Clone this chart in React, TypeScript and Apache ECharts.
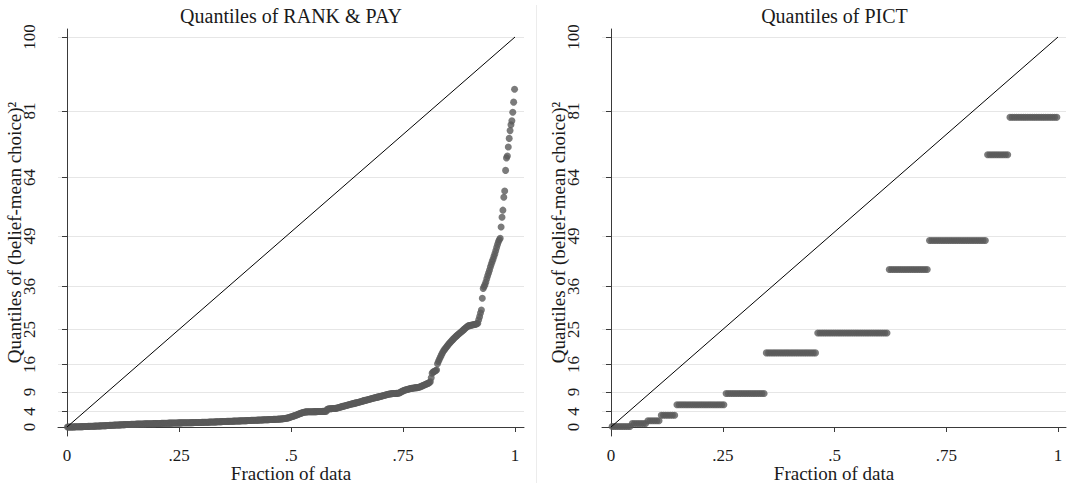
import React, { useEffect, useRef } from "react";
import * as echarts from "echarts";

// ---------- data ----------
const xTicks = [0, 0.25, 0.5, 0.75, 1];
const xTickLabels = ["0", ".25", ".5", ".75", "1"];
const yTicks = [0, 4, 9, 16, 25, 36, 49, 64, 81, 100];

const panelTitles = ["Quantiles of RANK & PAY", "Quantiles of PICT"];
const xTitle = "Fraction of data";
const yTitle = "Quantiles of (belief-mean choice)\u00B2";

// 45-degree reference line (fraction, value)
const refLineX = [0, 1];
const refLineY = [0, 100];

// sorted quantile values of (belief-mean choice)^2, RANK & PAY
const rankPay = [
  0, 0, 0, 0.01, 0.01, 0.02, 0.02, 0.03, 0.04, 0.04,
  0.05, 0.06, 0.06, 0.07, 0.08, 0.09, 0.09, 0.1, 0.11, 0.12,
  0.13, 0.14, 0.15, 0.16, 0.16, 0.17, 0.18, 0.19, 0.2, 0.21,
  0.22, 0.23, 0.24, 0.25, 0.26, 0.27, 0.28, 0.29, 0.3, 0.31,
  0.32, 0.34, 0.35, 0.36, 0.37, 0.38, 0.4, 0.41, 0.42, 0.44,
  0.45, 0.46, 0.48, 0.49, 0.5, 0.51, 0.52, 0.53, 0.54, 0.55,
  0.56, 0.57, 0.58, 0.6, 0.61, 0.62, 0.63, 0.64, 0.64, 0.65,
  0.66, 0.67, 0.68, 0.69, 0.7, 0.71, 0.72, 0.73, 0.74, 0.75,
  0.76, 0.76, 0.77, 0.78, 0.79, 0.79, 0.8, 0.81, 0.81, 0.82,
  0.83, 0.83, 0.84, 0.84, 0.85, 0.85, 0.86, 0.86, 0.87, 0.88,
  0.89, 0.9, 0.9, 0.91, 0.92, 0.93, 0.94, 0.95, 0.96, 0.96,
  0.97, 0.98, 0.98, 0.99, 1, 1, 1, 1.01, 1.02, 1.02,
  1.03, 1.03, 1.04, 1.04, 1.05, 1.05, 1.06, 1.06, 1.07, 1.07,
  1.08, 1.08, 1.09, 1.09, 1.1, 1.1, 1.11, 1.11, 1.12, 1.12,
  1.13, 1.13, 1.14, 1.14, 1.15, 1.15, 1.16, 1.16, 1.17, 1.17,
  1.18, 1.19, 1.2, 1.2, 1.21, 1.22, 1.23, 1.24, 1.25, 1.26,
  1.27, 1.28, 1.29, 1.3, 1.3, 1.31, 1.32, 1.33, 1.34, 1.35,
  1.36, 1.37, 1.38, 1.39, 1.4, 1.41, 1.42, 1.43, 1.44, 1.44,
  1.45, 1.46, 1.47, 1.48, 1.49, 1.5, 1.51, 1.52, 1.53, 1.54,
  1.55, 1.56, 1.57, 1.57, 1.58, 1.59, 1.6, 1.61, 1.62, 1.63,
  1.64, 1.65, 1.66, 1.67, 1.68, 1.69, 1.7, 1.71, 1.72, 1.73,
  1.74, 1.75, 1.76, 1.77, 1.78, 1.79, 1.8, 1.81, 1.82, 1.84,
  1.85, 1.86, 1.87, 1.88, 1.89, 1.9, 1.91, 1.92, 1.93, 1.94,
  1.95, 1.96, 1.97, 1.98, 2, 2.01, 2.02, 2.04, 2.06, 2.08,
  2.1, 2.13, 2.16, 2.2, 2.24, 2.28, 2.33, 2.4, 2.47, 2.55,
  2.62, 2.7, 2.78, 2.86, 2.94, 3.02, 3.1, 3.2, 3.3, 3.4,
  3.48, 3.56, 3.64, 3.72, 3.78,
  3.85, 3.87, 3.88, 3.9, 3.9, 3.9, 3.91, 3.92, 3.92, 3.93,
  3.94, 3.94, 3.95, 3.95, 3.96, 3.96, 3.97, 3.98, 3.98, 3.99,
  4, 4, 4.01, 4.02, 4.05,
  4.55, 4.62, 4.66, 4.7, 4.7, 4.72, 4.74, 4.75, 4.76, 4.78, 4.8, 4.85,
  4.92, 5.0, 5.08, 5.15, 5.22, 5.28, 5.34, 5.4, 5.46, 5.52,
  5.58, 5.64, 5.7, 5.76, 5.82, 5.88, 5.94, 6.0, 6.06, 6.12,
  6.18, 6.24, 6.3, 6.36, 6.42, 6.48, 6.55, 6.62,
  6.7, 6.76, 6.82, 6.88, 6.94, 7.0, 7.06, 7.12, 7.18, 7.24,
  7.3, 7.36, 7.42, 7.48, 7.54, 7.6, 7.66, 7.72, 7.78, 7.84,
  7.9, 7.96, 8.02, 8.08, 8.14, 8.2, 8.26, 8.32, 8.38, 8.44,
  8.48, 8.52, 8.55, 8.57, 8.58, 8.6, 8.6, 8.62, 8.63, 8.65, 8.7, 8.8,
  8.95, 9.1, 9.2, 9.3, 9.4, 9.5, 9.55, 9.6,
  9.7, 9.75, 9.8, 9.85, 9.9, 9.95, 10, 10, 10.05, 10.1, 10.1, 10.15, 10.2, 10.25, 10.3,
  10.45, 10.55, 10.65, 10.75, 10.85, 10.95, 11.05, 11.15, 11.25, 11.4, 11.6,
  12.6, 13.8, 14.1, 14.2, 14.3, 14.5, 14.6,
  16.2, 16.8, 17.3, 17.8, 18.3, 18.8, 19.2,
  19.6, 19.9, 20.2, 20.5, 20.8, 21.1, 21.4, 21.6, 21.9, 22.1,
  22.4, 22.6, 22.9, 23.1, 23.3, 23.5, 23.7, 23.9, 24.1, 24.3,
  24.5, 24.7, 24.9, 25.1, 25.3, 25.5, 25.7, 25.9,
  26, 26, 26.1, 26.1, 26.2, 26.2, 26.3, 26.3, 26.4, 26.5, 26.6,
  27.5, 28.3, 29.2, 30, 33, 35.5,
  36, 36.5, 37.2, 38, 38.8, 39.5, 40.2, 41, 41.7, 42.4,
  43, 43.7, 44.4, 45.2, 46, 46.8, 47.5, 48,
  48.4, 51.3, 53.8, 55.6, 58.9, 60.5, 65.8, 69, 69.5, 71.8,
  74, 76, 77.5, 78.5, 80.7, 83.3, 86.6,
];

// PICT: distinct values of (belief-mean choice)^2 and their frequencies
const pictValues = [0.15, 0.9, 1.6, 3.0, 5.7, 8.6, 19.0, 24.1, 40.4, 47.8, 69.8, 79.4];
const pictCounts = [9, 7, 6, 7, 22, 18, 23, 32, 18, 26, 10, 22];

// ---------- helpers ----------
const FONT = "'Liberation Serif', 'DejaVu Serif', serif";
const AXIS_COLOR = "#3a3a3a";
const GRID_COLOR = "#e6e6e6";
const DOT_COLOR = "#5a5a5a";

function quantilePoints(sorted: number[]): number[][] {
  const n = sorted.length;
  return sorted.map((v, i) => [(i + 0.5) / n, v]);
}

function expand(values: number[], counts: number[]): number[] {
  const out: number[] = [];
  values.forEach((v, k) => {
    for (let j = 0; j < counts[k]; j++) out.push(v);
  });
  return out;
}

function tickLabel(v: number): string {
  let best = 0;
  for (let i = 1; i < xTicks.length; i++) {
    if (Math.abs(xTicks[i] - v) < Math.abs(xTicks[best] - v)) best = i;
  }
  return xTickLabels[best];
}

export default function App() {
  const ref = useRef<HTMLDivElement>(null);

  useEffect(() => {
    if (!ref.current) return;
    const chart = echarts.init(ref.current, null, { renderer: "svg" });

    // pixel layout
    const grids = [
      { left: 58, top: 29, width: 466, height: 407, zeroX: 67, unitX: 448 },
      { left: 602, top: 29, width: 464, height: 407, zeroX: 611, unitX: 447 },
    ];
    const zeroY = 427;
    const unitY = 3.9; // px per unit of y

    const xAxes = grids.map((g, i) => ({
      type: "value",
      gridIndex: i,
      min: (g.left - g.zeroX) / g.unitX,
      max: (g.left + g.width - g.zeroX) / g.unitX,
      axisLine: { show: true, lineStyle: { color: AXIS_COLOR, width: 1 } },
      axisTick: {
        show: true,
        customValues: xTicks,
        length: 5,
        lineStyle: { color: AXIS_COLOR, width: 1 },
      },
      axisLabel: {
        customValues: xTicks,
        formatter: (v: number) => tickLabel(v),
        fontFamily: FONT,
        fontSize: 17,
        color: "#1a1a1a",
        margin: 11,
      },
      splitLine: { show: false },
      name: xTitle,
      nameLocation: "middle",
      nameGap: 28,
      nameMoveOverlap: false,
      nameTextStyle: { fontFamily: FONT, fontSize: 19, color: "#1a1a1a" },
    }));

    const yAxes = grids.map((g, i) => ({
      type: "value",
      gridIndex: i,
      min: -(g.top + g.height - zeroY) / unitY,
      max: 100 + (37 - g.top) / unitY,
      axisLine: { show: true, lineStyle: { color: AXIS_COLOR, width: 1 } },
      axisTick: {
        show: true,
        customValues: yTicks,
        length: 5,
        lineStyle: { color: AXIS_COLOR, width: 1 },
      },
      axisLabel: {
        customValues: yTicks,
        rotate: 90,
        fontFamily: FONT,
        fontSize: 17,
        color: "#1a1a1a",
        margin: 20,
      },
      splitLine: {
        show: true,
        lineStyle: { color: GRID_COLOR, width: 1 },
      },
      name: yTitle,
      nameLocation: "middle",
      nameGap: 34,
      nameMoveOverlap: false,
      nameTextStyle: { fontFamily: FONT, fontSize: 19, color: "#1a1a1a" },
    }));

    const refData = refLineX.map((x, k) => [x, refLineY[k]]);
    const datasets = [quantilePoints(rankPay), quantilePoints(expand(pictValues, pictCounts))];

    const series: any[] = [];
    datasets.forEach((d, i) => {
      series.push({
        type: "scatter",
        xAxisIndex: i,
        yAxisIndex: i,
        data: d,
        symbol: "circle",
        symbolSize: 7,
        itemStyle: { color: DOT_COLOR },
        silent: true,
      });
      series.push({
        type: "line",
        xAxisIndex: i,
        yAxisIndex: i,
        data: refData,
        symbol: "none",
        lineStyle: { color: "#000", width: 1 },
        silent: true,
        z: 3,
      });
    });

    const graphic: any[] = [
      {
        type: "line",
        shape: { x1: 536.5, y1: 5, x2: 536.5, y2: 483 },
        style: { stroke: "#ececec", lineWidth: 1 },
        silent: true,
      },
    ];
    panelTitles.forEach((t, i) => {
      const g = grids[i];
      graphic.push({
        type: "text",
        x: g.zeroX + g.unitX / 2,
        y: 16,
        style: {
          text: t,
          textAlign: "center",
          textVerticalAlign: "middle",
          fontFamily: FONT,
          fontSize: 20,
          fill: "#1a1a1a",
        },
        silent: true,
      });
    });

    chart.setOption({
      animation: false,
      backgroundColor: "#ffffff",
      grid: grids.map((g) => ({
        left: g.left,
        top: g.top,
        width: g.width,
        height: g.height,
        containLabel: false,
        outerBoundsMode: "none",
      })),
      xAxis: xAxes,
      yAxis: yAxes,
      series,
      graphic,
    });

    return () => chart.dispose();
  }, []);

  return (
    <div
      ref={ref}
      style={{ position: "absolute", left: 0, top: 0, width: 1067, height: 485, background: "#fff" }}
    />
  );
}
